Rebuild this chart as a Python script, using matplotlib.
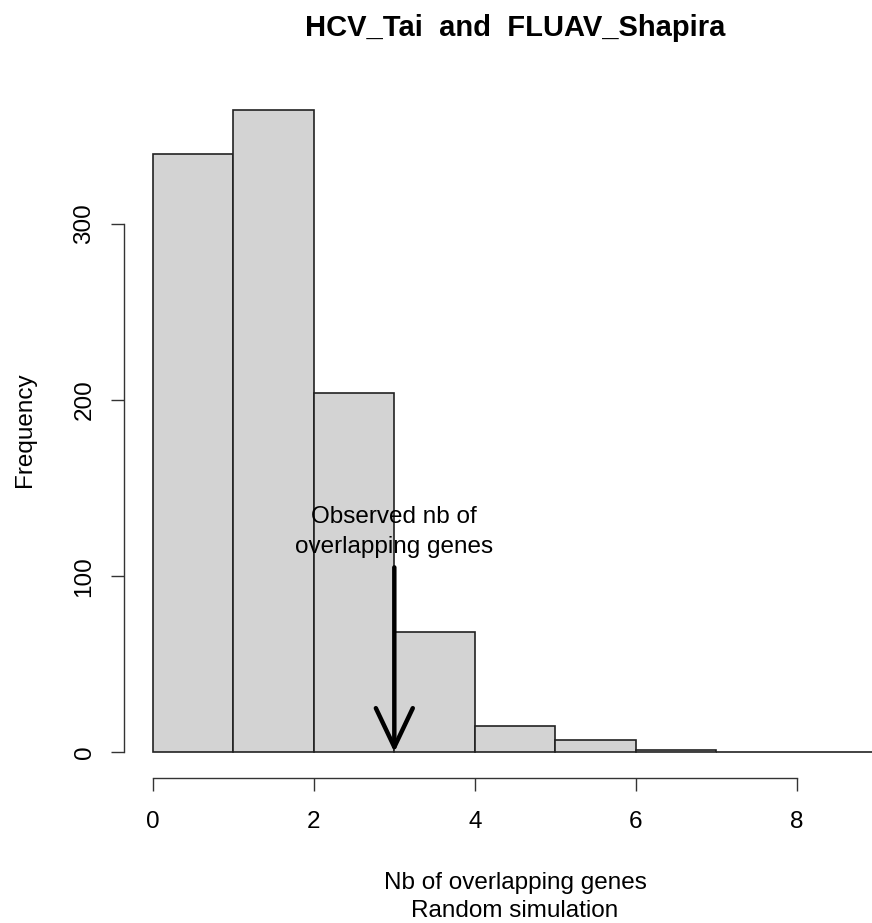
import matplotlib
matplotlib.use('Agg')
import matplotlib.pyplot as plt
import numpy as np

# histogram of the random simulation (breaks 0..9)
breaks = [0, 1, 2, 3, 4, 5, 6, 7, 8, 9]
counts = [340, 365, 204, 68, 15, 7, 1, 0, 0]
observed = 3          # observed nb of overlapping genes
arrow_top = 105
label_y = 125
x_ticks = [0, 2, 4, 6, 8]
y_ticks = [0, 100, 200, 300]

plt.rcParams['font.family'] = ['Liberation Sans', 'DejaVu Sans']

W, H = 872, 923
fig = plt.figure(figsize=(W / 100, H / 100), dpi=100)
# plot region (extends past the right edge, as in the original)
ax = fig.add_axes([124 / W, (H - 778) / H, 782 / W, 696 / H])

lefts = np.array(breaks[:-1])
widths = np.diff(breaks)
ax.bar(lefts, counts, width=widths, align='edge', color='#d3d3d3',
       edgecolor='#222222', linewidth=1.2)

ax.set_xlim(-0.36, 9.36)
ax.set_ylim(-14.64, 380.64)

for s in ['top', 'right']:
    ax.spines[s].set_visible(False)
ax.spines['left'].set_bounds(y_ticks[0], y_ticks[-1])
ax.spines['bottom'].set_bounds(x_ticks[0], x_ticks[-1])
for s in ['left', 'bottom']:
    ax.spines[s].set_linewidth(1.0)
    ax.spines[s].set_color('#333333')

ax.set_xticks(x_ticks)
ax.set_yticks(y_ticks)
ax.tick_params(axis='both', direction='out', length=9.5, width=1.0,
               color='#333333', labelsize=17.5)
ax.tick_params(axis='x', pad=14)
ax.tick_params(axis='y', pad=11, labelrotation=90)
for lab in ax.get_yticklabels():
    lab.set_verticalalignment('center')

# arrow pointing at the observed value
ax.annotate('', xy=(observed, 0), xytext=(observed, arrow_top),
            arrowprops=dict(arrowstyle='->, head_length=2.0, head_width=0.95',
                            mutation_scale=14, lw=3.2, color='black',
                            shrinkA=0, shrinkB=0))
ax.text(observed, label_y, 'Observed nb of\noverlapping genes', ha='center',
        va='center', fontsize=17.5, linespacing=1.5)

cx = (124 + 906) / 2 / W
fig.text(cx, 1 - 36 / H, 'HCV_Tai  and  FLUAV_Shapira', ha='center',
         va='baseline', fontsize=21, fontweight='bold')
fig.text(cx, 1 - 897 / H, 'Nb of overlapping genes\nRandom simulation',
         ha='center', va='center', fontsize=17.5, linespacing=1.3)
fig.text(25 / W, 1 - 430 / H, 'Frequency', ha='center', va='center',
         rotation=90, fontsize=17.5)

fig.savefig('out.png', dpi=100)
